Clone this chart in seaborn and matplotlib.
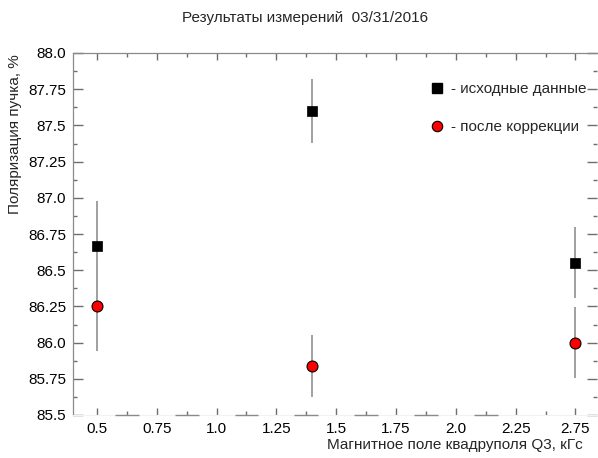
import numpy as np
import matplotlib
matplotlib.use("Agg")
import matplotlib.pyplot as plt
from matplotlib.lines import Line2D
import seaborn as sns
import pandas as pd

# ---- data ----
field = [0.5, 1.4, 2.75]
pol_raw = [86.67, 87.60, 86.55]
err_raw = [0.31, 0.22, 0.245]
pol_corr = [86.25, 85.84, 86.00]
err_corr = [0.31, 0.215, 0.245]

x_ticks = [0.5, 0.75, 1.0, 1.25, 1.5, 1.75, 2.0, 2.25, 2.75]
x_labels = ["0.5", "0.75", "1.0", "1.25", "1.5", "1.75", "2.0", "2.25", "2.75"]
y_ticks = [88.0, 87.75, 87.5, 87.25, 87.0, 86.75, 86.5, 86.25, 86.0, 85.75, 85.5]
y_labels = ["88.0", "87.75", "87.5", "87.25", "87.0", "86.75", "86.5", "86.25", "86.0", "85.75", "85.5"]

title = "Результаты измерений  03/31/2016"
xlabel = "Магнитное поле квадруполя Q3, кГс"
ylabel = "Поляризация пучка, %"
leg_raw = "- исходные данные"
leg_corr = "- после коррекции"

sns.set_theme(style="white")
plt.rcParams["font.family"] = ["Liberation Sans", "DejaVu Sans"]

FS = 11
fig = plt.figure(figsize=(5.98, 4.58), dpi=100)
W, H = 598, 458
ax = fig.add_axes([73 / W, 1 - 415 / H, (597 - 73) / W, (415 - 53) / H])

# compressed scale above 2.25
def fwd(x):
    x = np.asarray(x, dtype=float)
    return np.where(x <= 2.25, x, 2.25 + (x - 2.25) / 2)

def inv(x):
    x = np.asarray(x, dtype=float)
    return np.where(x <= 2.25, x, 2.25 + (x - 2.25) * 2)

ax.set_xscale("function", functions=(fwd, inv))

ecol = "#a0a0a0"
ax.errorbar(field, pol_raw, yerr=err_raw, fmt="none", ecolor=ecol, elinewidth=1.4, capsize=0, zorder=2)
ax.errorbar(field, pol_corr, yerr=err_corr, fmt="none", ecolor=ecol, elinewidth=1.4, capsize=0, zorder=2)

df_raw = pd.DataFrame({"x": field, "y": pol_raw})
df_corr = pd.DataFrame({"x": field, "y": pol_corr})
sns.scatterplot(data=df_raw, x="x", y="y", marker="s", s=62, color="black",
                edgecolor="black", linewidth=0.5, ax=ax, zorder=3)
sns.scatterplot(data=df_corr, x="x", y="y", marker="o", s=62, color="red",
                edgecolor="black", linewidth=0.8, ax=ax, zorder=3)

ax.set_xlim(0.4, 2.93)
ax.set_ylim(85.5, 88.0)

ax.set_xticks(x_ticks)
ax.set_xticklabels(x_labels)
minor_x = [0.625, 0.875, 1.125, 1.375, 1.625, 1.875, 2.125, 2.5]
ax.set_xticks(minor_x, minor=True)
ax.set_yticks(y_ticks)
ax.set_yticklabels(y_labels)
ax.set_yticks(np.arange(85.625, 88.0, 0.25), minor=True)

tc = "#6e6e6e"
ax.tick_params(which="major", direction="in", length=5, width=1.0, color=tc,
               top=True, right=True, bottom=True, left=True, labelsize=FS,
               labelcolor="black")
ax.tick_params(which="minor", direction="in", length=3, width=1.0, color=tc,
               top=True, right=True, bottom=True, left=True)
ax.tick_params(axis="y", which="major", length=7, pad=5)
ax.tick_params(axis="x", which="major", pad=5)

for side in ["top", "left"]:
    ax.spines[side].set_color("#8a8a8a")
    ax.spines[side].set_linewidth(0.9)
ax.spines["bottom"].set_color("#f2f2f2")
ax.spines["bottom"].set_linewidth(0.8)
ax.spines["right"].set_visible(False)

# short gray segments along bottom axis around minor ticks
ax.hlines([85.5] * 7, [m - 0.05 for m in minor_x[:7]], [m + 0.05 for m in minor_x[:7]],
          colors="#8a8a8a", linewidth=1.0, clip_on=False, zorder=4)

ax.set_xlabel("")
ax.set_ylabel("")
fig.text(583 / W, 1 - 449 / H, xlabel, ha="right", va="baseline", fontsize=FS)
fig.text(8 / W, 1 - 54 / H, ylabel, ha="left", va="top", rotation=90, fontsize=FS)
fig.text(305 / W, 1 - 22 / H, title, ha="center", va="baseline", fontsize=FS)

handles = [
    Line2D([], [], marker="s", linestyle="none", markersize=7.5, markerfacecolor="black",
           markeredgecolor="black"),
    Line2D([], [], marker="o", linestyle="none", markersize=7.5, markerfacecolor="red",
           markeredgecolor="black", markeredgewidth=0.8),
]
ax.legend(handles, [leg_raw, leg_corr], loc="upper left",
          bbox_to_anchor=(429 / W, 1 - 82 / H), bbox_transform=fig.transFigure,
          frameon=False, fontsize=FS, handlelength=1.0, handletextpad=0.45,
          labelspacing=1.6, borderpad=0, borderaxespad=0)

fig.savefig("out.png", dpi=100)
